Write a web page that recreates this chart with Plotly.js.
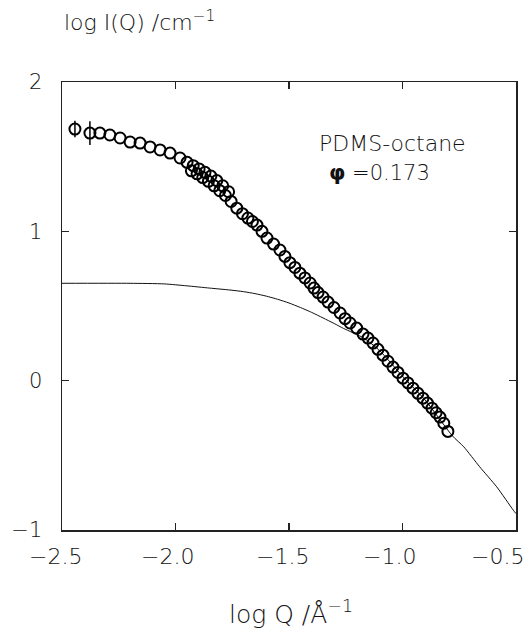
<!DOCTYPE html>
<html>
<head>
<meta charset="utf-8">
<script src="https://cdn.plot.ly/plotly-3.0.1.min.js"></script>
<style>html,body{margin:0;padding:0;background:#fff;}#chart{width:529px;height:630px;}</style>
</head>
<body>
<div id="chart"></div>
<script>
// Low-Q data set (log Q, log I)
var xLow = [-2.443,-2.377,-2.333,-2.289,-2.244,-2.200,-2.156,-2.112,-2.068,-2.024,-1.980,-1.949,-1.922,-1.896,-1.870,-1.844,-1.818,-1.792,-1.766];
var yLow = [1.685,1.658,1.658,1.645,1.625,1.598,1.591,1.565,1.545,1.524,1.491,1.462,1.440,1.418,1.395,1.370,1.340,1.305,1.265];
var errLow = [0.055,0.08,0,0,0,0,0,0,0,0,0,0,0,0,0,0,0,0,0];

// High-Q data set
var xHigh = [-1.930,-1.905,-1.880,-1.855,-1.830,-1.805,-1.780,-1.755,-1.730,-1.705,-1.681,-1.661,-1.641,-1.619,-1.597,-1.568,-1.540,-1.518,-1.496,-1.474,-1.452,-1.430,-1.407,-1.390,-1.372,-1.350,-1.328,-1.302,-1.275,-1.253,-1.231,-1.202,-1.174,-1.152,-1.130,-1.108,-1.086,-1.064,-1.042,-1.020,-0.998,-0.976,-0.954,-0.932,-0.910,-0.890,-0.870,-0.852,-0.835,-0.818,-0.800];
var yHigh = [1.405,1.385,1.360,1.335,1.305,1.272,1.240,1.200,1.155,1.118,1.089,1.066,1.042,1.000,0.955,0.915,0.875,0.832,0.790,0.758,0.720,0.688,0.654,0.620,0.590,0.560,0.526,0.490,0.453,0.415,0.386,0.352,0.312,0.285,0.252,0.210,0.171,0.130,0.091,0.055,0.017,-0.015,-0.050,-0.085,-0.117,-0.150,-0.184,-0.215,-0.244,-0.285,-0.340];

// Model curve
var xModel = [-2.50,-2.20,-2.05,-1.95,-1.85,-1.76,-1.70,-1.65,-1.60,-1.55,-1.50,-1.45,-1.40,-1.35,-1.30,-1.26,-1.17,-1.10,-1.00,-0.90,-0.78,-0.73,-0.66,-0.585,-0.512,-0.50];
var yModel = [0.652,0.652,0.648,0.635,0.620,0.607,0.596,0.583,0.566,0.545,0.520,0.490,0.457,0.420,0.382,0.350,0.285,0.200,0.030,-0.130,-0.370,-0.443,-0.577,-0.711,-0.867,-0.890];

var xTicks = [-2.5,-2.0,-1.5,-1.0,-0.5];
var xTickText = ['\u22122.5','\u22122.0','\u22121.5','\u22121.0','\u22120.5'];
var xTickShift = [-7,-8,-7,-13,-19];
var yTicks = [-1,0,1,2];
var yTickText = ['\u22121','0','1','2'];

var FONT = 'DejaVu Sans, Liberation Sans, sans-serif';
var markerStyle = {symbol:'circle-open', size:11, color:'#000', line:{width:2, color:'#000'}};

var traces = [
  {x:xModel, y:yModel, mode:'lines', line:{color:'#111', width:1, shape:'spline', smoothing:0.6}, showlegend:false, hoverinfo:'skip'},
  {x:xLow, y:yLow, mode:'markers', marker:markerStyle,
   error_y:{type:'data', array:errLow, visible:true, width:0, thickness:1.5, color:'#000'}, showlegend:false},
  {x:xHigh, y:yHigh, mode:'markers', marker:markerStyle, showlegend:false}
];

var axisCommon = {showline:true, linecolor:'#222', linewidth:1.5, mirror:'ticks', ticks:'inside', ticklen:7, tickwidth:1.5, tickcolor:'#222', showgrid:false, zeroline:false, tickfont:{family:FONT, size:21, color:'#111', weight:200}};

var annotations = [
  {xref:'paper', yref:'paper', x:0.0, y:1.136, xanchor:'left', yanchor:'middle', showarrow:false,
   text:'log I(Q) /cm<sup>\u22121</sup>', font:{family:FONT, size:22, color:'#111', weight:200}},
  {xref:'paper', yref:'paper', x:(291-62)/454, y:(530-612)/448, xanchor:'center', yanchor:'middle', showarrow:false,
   text:'log Q /\u00c5<sup>\u22121</sup>', font:{family:FONT, size:25, color:'#111', weight:200}},
  {xref:'paper', yref:'paper', x:(392-62)/454, y:(530-143)/448, xanchor:'center', yanchor:'middle', showarrow:false,
   text:'PDMS-octane', font:{family:FONT, size:22, color:'#111', weight:200}},
  {xref:'paper', yref:'paper', x:(327-62)/454, y:(530-173)/448, xanchor:'left', yanchor:'middle', showarrow:false,
   text:'<b>\u03c6</b> =0.173', font:{family:FONT, size:21, color:'#111', weight:200}}
];
xTicks.forEach(function(v, i){
  annotations.push({xref:'x', yref:'paper', x:v, y:0, yanchor:'middle', xanchor:'center', yshift:-26, xshift:xTickShift[i],
    showarrow:false, text:xTickText[i], font:{family:FONT, size:22, color:'#111', weight:200}});
});

var layout = {
  width:529, height:630,
  margin:{l:62, r:13, t:82, b:100},
  paper_bgcolor:'#fff', plot_bgcolor:'#fff',
  showlegend:false,
  xaxis: Object.assign({}, axisCommon, {range:[-2.5,-0.5], tickmode:'array', tickvals:xTicks, showticklabels:false}),
  yaxis: Object.assign({}, axisCommon, {range:[-1,2], tickmode:'array', tickvals:yTicks, ticktext:yTickText, ticklabelstandoff:14}),
  annotations: annotations
};

Plotly.newPlot('chart', traces, layout, {displayModeBar:false, staticPlot:true});
</script>
</body>
</html>
